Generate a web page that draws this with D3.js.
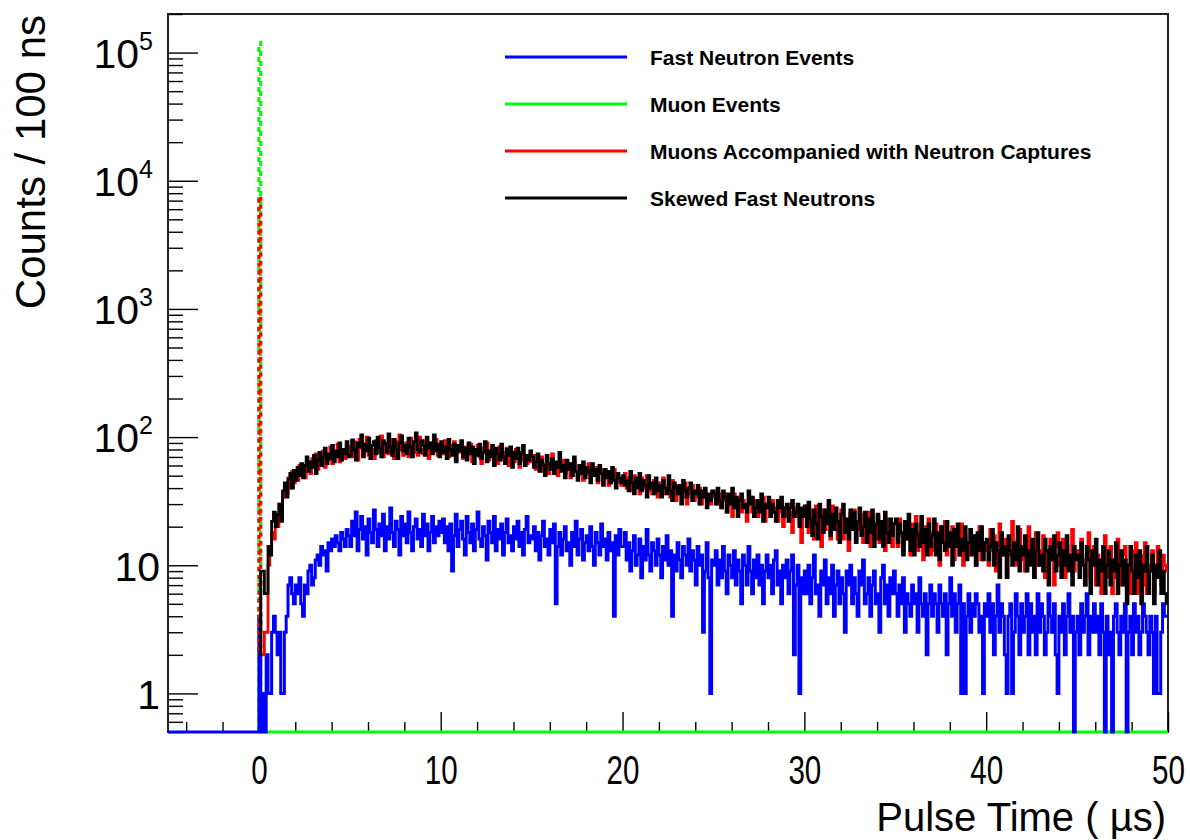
<!DOCTYPE html>
<html>
<head>
<meta charset="utf-8">
<script src="https://cdn.jsdelivr.net/npm/d3@7"></script>
<style>
  body { margin: 0; background: #fff; }
  svg { display: block; font-family: "Liberation Sans", Arial, Helvetica, sans-serif; }
</style>
</head>
<body>
<svg id="chart" width="1190" height="840"></svg>
<script>
// Pulse-time histograms, 100 ns bins starting at 0 µs
const binWidth = 0.1;
const xRange = [-5, 50];
const yRange = [0.5, 2e5];
const xMajorTicks = [0, 10, 20, 30, 40, 50];
const yMajorTicks = [1, 10, 100, 1000, 10000, 100000];
const yTickBases = ["1", "10", "10", "10", "10", "10"];
const yTickExponents = ["", "", "2", "3", "4", "5"];

const seriesNames = [
  "Fast Neutron Events",
  "Muon Events",
  "Muons Accompanied with Neutron Captures",
  "Skewed Fast Neutrons"
];
const seriesColors = ["#0000ff", "#00ff00", "#ff0000", "#000000"];

// Muon events: everything lands in the first bin, all later bins are empty
const muonCounts = [120000];

// Fast neutron events (blue)
const fastNeutronCounts = [
  // 0-5 µs
  4, 0, 1, 0, 2, 1, 1, 3, 4, 3, 2, 3, 1, 1, 3, 4, 7, 8, 6, 5,
  7, 6, 8, 5, 4, 7, 6, 9, 10, 7, 8, 11, 12, 10, 14, 12, 13, 9, 15, 13,
  16, 14, 17, 15, 13, 18, 16, 14, 19, 17,
  // 5-10 µs
  14, 22, 17, 26, 13, 19, 24, 16, 20, 12, 23, 18, 15, 27, 19, 14, 21, 17, 25, 13,
  20, 16, 28, 18, 14, 22, 19, 12, 24, 17, 21, 15, 26, 18, 13, 20, 23, 16, 19, 14,
  25, 17, 21, 13, 18, 24, 15, 20, 17, 22,
  // 10-15 µs
  18, 23, 15, 20, 13, 21, 9, 17, 25, 14, 19, 22, 16, 12, 24, 18, 15, 21, 13, 19,
  26, 16, 14, 20, 17, 11, 22, 18, 15, 24, 13, 19, 16, 21, 12, 18, 23, 15, 17, 13,
  20, 16, 22, 14, 18, 12, 19, 24, 15, 17,
  // 15-20 µs
  16, 20, 13, 18, 11, 17, 22, 14, 16, 12, 19, 15, 21, 5, 14, 18, 12, 16, 20, 13,
  15, 10, 18, 14, 22, 12, 16, 19, 11, 15, 17, 13, 20, 14, 10, 18, 15, 12, 21, 14,
  16, 11, 18, 13, 15, 4, 17, 12, 19, 14,
  // 20-25 µs
  14, 18, 11, 15, 9, 13, 17, 10, 12, 16, 8, 14, 11, 19, 12, 9, 15, 13, 10, 16,
  12, 8, 14, 11, 17, 10, 13, 4, 12, 9, 15, 11, 8, 14, 12, 10, 16, 9, 13, 11,
  7, 14, 10, 12, 3, 9, 15, 8, 1, 11,
  // 25-30 µs
  10, 13, 7, 11, 8, 14, 9, 6, 12, 10, 8, 13, 7, 11, 9, 5, 12, 10, 7, 14,
  9, 6, 11, 8, 12, 7, 10, 5, 9, 12, 8, 10, 6, 11, 13, 7, 9, 5, 10, 8,
  11, 6, 9, 12, 2, 7, 10, 1, 8, 6,
  // 30-35 µs
  9, 6, 10, 5, 8, 12, 6, 7, 4, 9, 7, 11, 5, 8, 6, 10, 4, 7, 9, 5,
  8, 6, 3, 9, 7, 10, 5, 8, 6, 4, 9, 7, 11, 5, 6, 8, 4, 7, 9, 5,
  6, 3, 8, 10, 5, 7, 4, 8, 6, 9,
  // 35-40 µs
  6, 4, 7, 5, 8, 3, 6, 5, 4, 7, 5, 6, 3, 8, 5, 4, 6, 2, 5, 7,
  4, 6, 5, 3, 7, 5, 4, 6, 2, 5, 8, 4, 6, 3, 5, 7, 1, 5, 1, 4,
  6, 3, 5, 4, 6, 5, 3, 4, 1, 5,
  // 40-45 µs
  4, 6, 3, 5, 2, 4, 7, 3, 5, 4, 2, 1, 4, 5, 1, 3, 6, 4, 2, 5,
  3, 4, 6, 2, 5, 3, 4, 2, 6, 3, 5, 4, 2, 3, 6, 4, 3, 5, 2, 1,
  4, 3, 5, 2, 4, 6, 3, 4, 0, 3,
  // 45-50 µs
  4, 2, 5, 3, 4, 6, 2, 4, 3, 5, 3, 4, 2, 5, 3, 0, 4, 2, 3, 0,
  4, 5, 3, 2, 4, 3, 5, 0, 3, 4, 2, 5, 3, 4, 2, 3, 5, 4, 3, 2,
  4, 3, 1, 4, 1, 1, 3, 5, 4, 4
];

// Muons accompanied with neutron captures (red)
const muonCaptureCounts = [
  // 0-5 µs
  7500, 2, 2, 3, 3, 10, 13, 18, 16, 24, 20, 30, 26, 34, 42, 36, 48, 40, 54, 44,
  50, 46, 60, 52, 56, 48, 64, 58, 52, 68, 60, 74, 56, 66, 62, 78, 58, 72, 66, 84,
  62, 76, 70, 88, 64, 80, 72, 68, 86, 74,
  // 5-10 µs
  84, 70, 92, 78, 66, 96, 82, 74, 88, 100, 72, 86, 80, 68, 94, 84, 76, 102, 70, 90,
  82, 74, 96, 86, 68, 92, 78, 104, 80, 72, 90, 84, 70, 98, 82, 76, 88, 72, 100, 80,
  74, 94, 84, 68, 90, 78, 86, 96, 72, 82,
  // 10-15 µs
  88, 74, 94, 80, 70, 86, 78, 92, 66, 82, 76, 90, 68, 84, 72, 78, 88, 64, 80, 74,
  86, 70, 62, 82, 76, 90, 66, 74, 80, 68, 78, 62, 84, 72, 66, 76, 82, 60, 74, 70,
  64, 80, 68, 58, 76, 66, 72, 62, 70, 64,
  // 15-20 µs
  66, 72, 56, 64, 60, 70, 54, 62, 68, 52, 60, 74, 56, 62, 50, 64, 58, 66, 52, 56,
  62, 48, 58, 64, 54, 50, 60, 56, 46, 58, 52, 62, 48, 54, 50, 58, 44, 52, 56, 46,
  50, 54, 42, 52, 48, 56, 44, 50, 46, 42,
  // 20-25 µs
  46, 52, 40, 48, 44, 38, 50, 42, 46, 36, 48, 40, 44, 50, 38, 42, 36, 46, 40, 34,
  44, 38, 48, 36, 40, 42, 34, 46, 38, 32, 42, 36, 40, 34, 44, 30, 38, 36, 42, 32,
  38, 34, 40, 30, 36, 38, 32, 34, 30, 36,
  // 25-30 µs
  34, 38, 30, 36, 28, 32, 36, 26, 34, 30, 24, 36, 30, 28, 34, 26, 32, 28, 22, 30,
  34, 26, 28, 32, 24, 30, 26, 34, 22, 28, 30, 24, 32, 26, 28, 22, 30, 26, 20, 28,
  24, 30, 26, 18, 28, 24, 26, 22, 15, 26,
  // 30-35 µs
  25, 29, 18, 27, 21, 16, 29, 20, 25, 14, 27, 19, 24, 21, 16, 29, 19, 25, 16, 22,
  27, 16, 23, 19, 13, 25, 19, 27, 16, 22, 19, 25, 15, 21, 18, 26, 14, 22, 19, 16,
  24, 15, 21, 18, 13, 23, 17, 20, 14, 21,
  // 35-40 µs
  21, 14, 23, 17, 13, 22, 16, 20, 12, 21, 15, 24, 13, 18, 21, 11, 20, 15, 23, 12,
  18, 13, 21, 16, 10, 20, 15, 22, 12, 17, 14, 20, 11, 16, 19, 12, 21, 10, 17, 14,
  12, 19, 14, 17, 10, 16, 20, 11, 15, 13,
  // 40-45 µs
  15, 10, 19, 13, 17, 9, 14, 21, 12, 13, 16, 8, 15, 12, 22, 13, 10, 16, 19, 11,
  14, 9, 13, 20, 11, 15, 8, 18, 10, 13, 12, 17, 8, 13, 11, 16, 12, 7, 14, 18,
  10, 13, 16, 8, 14, 11, 12, 19, 9, 12,
  // 45-50 µs
  13, 9, 16, 11, 7, 12, 18, 8, 11, 14, 7, 12, 10, 6, 13, 17, 8, 10, 14, 6,
  11, 8, 16, 10, 7, 12, 14, 7, 10, 6, 13, 9, 15, 6, 10, 12, 7, 15, 6, 10,
  9, 13, 6, 10, 14, 8, 7, 12, 10, 9
];

// Skewed fast neutrons (black)
const skewedNeutronCounts = [
  // 0-5 µs
  2, 9, 9, 6, 6, 14, 12, 22, 26, 20, 25, 30, 22, 38, 44, 34, 47, 52, 40, 55,
  46, 58, 50, 62, 48, 60, 70, 54, 64, 58, 72, 52, 66, 76, 60, 70, 82, 62, 74, 68,
  86, 64, 78, 70, 90, 66, 80, 74, 92, 70,
  // 5-10 µs
  72, 95, 80, 66, 90, 84, 104, 70, 88, 78, 98, 68, 86, 92, 74, 100, 82, 70, 94, 88,
  76, 106, 84, 72, 96, 80, 68, 90, 102, 78, 86, 74, 98, 84, 70, 92, 108, 80, 76, 94,
  86, 72, 100, 82, 90, 74, 104, 78, 88, 70,
  // 10-15 µs
  92, 76, 84, 68, 96, 80, 72, 88, 64, 86, 78, 94, 70, 82, 66, 90, 74, 84, 62, 80,
  72, 88, 68, 76, 92, 64, 78, 70, 86, 60, 82, 74, 66, 88, 70, 62, 80, 72, 84, 58,
  76, 68, 82, 62, 74, 86, 60, 72, 66, 78,
  // 15-20 µs
  70, 58, 64, 74, 54, 66, 60, 50, 72, 62, 56, 68, 52, 64, 58, 76, 54, 60, 48, 66,
  56, 62, 50, 70, 54, 46, 60, 52, 64, 48, 58, 54, 44, 62, 50, 56, 46, 60, 52, 42,
  56, 48, 54, 44, 58, 46, 40, 52, 48, 44,
  // 20-25 µs
  50, 42, 46, 38, 54, 44, 36, 48, 40, 52, 38, 46, 42, 34, 50, 40, 44, 36, 48, 38,
  42, 34, 46, 40, 36, 50, 38, 32, 44, 40, 36, 42, 30, 46, 38, 34, 40, 44, 32, 38,
  36, 42, 30, 38, 34, 40, 28, 36, 32, 38,
  // 25-30 µs
  36, 30, 40, 32, 28, 38, 34, 26, 36, 30, 40, 28, 34, 24, 32, 36, 28, 30, 26, 38,
  30, 34, 24, 28, 32, 26, 36, 22, 30, 28, 34, 24, 30, 26, 22, 32, 28, 34, 24, 28,
  30, 22, 28, 32, 24, 26, 30, 20, 28, 24,
  // 30-35 µs
  29, 20, 31, 23, 17, 27, 21, 16, 30, 24, 18, 27, 21, 32, 17, 25, 19, 28, 22, 15,
  25, 30, 18, 23, 16, 27, 19, 26, 15, 22, 28, 17, 20, 26, 15, 23, 18, 27, 14, 21,
  25, 16, 22, 14, 26, 18, 15, 23, 17, 21,
  // 35-40 µs
  23, 15, 21, 18, 12, 22, 16, 25, 13, 19, 12, 21, 17, 14, 24, 15, 19, 12, 21, 14,
  17, 23, 12, 18, 11, 20, 15, 13, 22, 14, 18, 10, 19, 14, 21, 12, 16, 13, 20, 11,
  15, 19, 12, 17, 10, 18, 13, 20, 11, 15,
  // 40-45 µs
  16, 11, 14, 19, 10, 15, 13, 8, 18, 12, 14, 8, 17, 13, 10, 15, 11, 20, 9, 14,
  12, 17, 9, 13, 10, 16, 8, 13, 18, 10, 12, 9, 16, 13, 7, 14, 11, 17, 9, 12,
  15, 8, 13, 10, 17, 9, 12, 7, 14, 11,
  // 45-50 µs
  12, 8, 15, 10, 7, 14, 11, 6, 13, 10, 16, 7, 11, 9, 14, 6, 10, 13, 7, 11,
  9, 15, 6, 10, 13, 7, 11, 5, 10, 14, 9, 6, 12, 8, 13, 5, 10, 9, 14, 6,
  9, 12, 5, 10, 8, 13, 6, 9, 6, 5
];

// ---- layout -------------------------------------------------------------
const frame = { left: 168, right: 1168, top: 14, bottom: 732 };
const nBins = Math.round((xRange[1] - 0) / binWidth);
const fontFamily = "Liberation Sans, Arial, sans-serif";

const svg = d3.select("#chart");
const x = d3.scaleLinear().domain(xRange).range([frame.left, frame.right]);
const y = d3.scaleLog().domain(yRange).range([frame.bottom, frame.top]);
// empty bins sit on the floor of the log axis
const yv = v => y(Math.max(v, yRange[0]));

// frame
svg.append("rect")
  .attr("x", frame.left).attr("y", frame.top)
  .attr("width", frame.right - frame.left).attr("height", frame.bottom - frame.top)
  .attr("fill", "none").attr("stroke", "#222").attr("stroke-width", 2);

// ---- x axis (ticks point into the frame) --------------------------------
const xMinor = d3.range(-4, 50, 2).filter(v => !xMajorTicks.includes(v));
svg.append("g").attr("transform", `translate(0,${frame.bottom})`)
  .call(d3.axisBottom(x).tickValues(xMinor).tickSize(-10).tickFormat(""))
  .call(g => g.select(".domain").remove())
  .call(g => g.selectAll("line").attr("stroke", "#000").attr("stroke-width", 1.4));

svg.append("g").attr("transform", `translate(0,${frame.bottom})`)
  .call(d3.axisBottom(x).tickValues(xMajorTicks).tickSize(-20).tickPadding(24).tickFormat(d3.format("d")))
  .call(g => g.select(".domain").remove())
  .call(g => g.selectAll("line").attr("stroke", "#000").attr("stroke-width", 1.4))
  .call(g => g.selectAll("text")
    .attr("font-family", fontFamily)
    .attr("font-size", 40).attr("fill", "#000")
    .attr("transform", "scale(0.74,1)"));

// ---- y axis (log) -------------------------------------------------------
const yMinor = [];
for (let e = -1; e <= 5; e++) {
  for (let m = 2; m <= 9; m++) {
    const v = m * Math.pow(10, e);
    if (v >= yRange[0] && v <= yRange[1]) yMinor.push(v);
  }
}
svg.append("g").attr("transform", `translate(${frame.left},0)`)
  .call(d3.axisLeft(y).tickValues(yMinor).tickSize(-15).tickFormat(""))
  .call(g => g.select(".domain").remove())
  .call(g => g.selectAll("line").attr("stroke", "#000").attr("stroke-width", 1.4));

const yAxisG = svg.append("g").attr("transform", `translate(${frame.left},0)`)
  .call(d3.axisLeft(y).tickValues(yMajorTicks).tickSize(-30).tickPadding(8).tickFormat(""))
  .call(g => g.select(".domain").remove())
  .call(g => g.selectAll("line").attr("stroke", "#000").attr("stroke-width", 1.4));

yAxisG.selectAll(".tick").each(function (d, i) {
  const t = d3.select(this).select("text")
    .attr("font-family", fontFamily)
    .attr("font-size", 41).attr("fill", "#000")
    .attr("dy", "0.36em");
  t.text(null);
  if (yTickExponents[i]) t.attr("x", -15);
  t.append("tspan").text(yTickBases[i]);
  if (yTickExponents[i]) {
    t.append("tspan").attr("font-size", 25).attr("dy", "-0.72em").text(yTickExponents[i]);
  }
});

// axis titles
svg.append("text")
  .attr("x", frame.right - 2).attr("y", 831)
  .attr("text-anchor", "end").attr("font-size", 40).attr("fill", "#000")
  .text("Pulse Time ( \u00b5s)");

svg.append("text")
  .attr("transform", `translate(45,${frame.top + 1}) rotate(-90)`)
  .attr("text-anchor", "end").attr("font-size", 42).attr("fill", "#000")
  .text("Counts / 100 ns");

// ---- histograms ---------------------------------------------------------
const stepLine = d3.line().x(d => x(d[0])).y(d => yv(d[1])).curve(d3.curveStepAfter);
const plainLine = d3.line().x(d => x(d[0])).y(d => yv(d[1]));

function binPoints(counts, fromBin) {
  const pts = [];
  for (let i = fromBin; i < counts.length; i++) pts.push([i * binWidth, counts[i]]);
  pts.push([counts.length * binWidth, counts[counts.length - 1]]);
  return pts;
}

const lw = 2.8;
const histG = svg.append("g").attr("fill", "none").attr("stroke-linejoin", "miter");

// muon events: baseline of empty bins + dashed spike in the first bin
const muonFull = d3.range(nBins).map(i => muonCounts[i] || 0);
histG.append("path")
  .attr("d", stepLine(binPoints(muonFull, 1)))
  .attr("stroke", seriesColors[1]).attr("stroke-width", lw);
histG.append("path")
  .attr("d", plainLine([[0, 0], [0, muonFull[0]], [binWidth, muonFull[0]], [binWidth, muonFull[1]]]))
  .attr("stroke", seriesColors[1]).attr("stroke-width", lw + 0.4)
  .attr("stroke-dasharray", "5,5");

// fast neutron events, empty before the trigger
const fastPts = [[xRange[0], 0]].concat(binPoints(fastNeutronCounts, 0));
histG.append("path")
  .attr("d", stepLine(fastPts))
  .attr("stroke", seriesColors[0]).attr("stroke-width", 3);

// muons with neutron captures: dashed first-bin spike, solid after
const mc = muonCaptureCounts;
histG.append("path")
  .attr("d", plainLine([[0, mc[1]], [0, mc[0]], [binWidth, mc[0]], [binWidth, mc[1]]]))
  .attr("stroke", seriesColors[2]).attr("stroke-width", lw + 0.4)
  .attr("stroke-dasharray", "4,4").attr("stroke-dashoffset", 4);
histG.append("path")
  .attr("d", stepLine(binPoints(mc, 1)))
  .attr("stroke", seriesColors[2]).attr("stroke-width", lw);

// skewed fast neutrons
histG.append("path")
  .attr("d", stepLine(binPoints(skewedNeutronCounts, 0)))
  .attr("stroke", seriesColors[3]).attr("stroke-width", lw);

// ---- legend -------------------------------------------------------------
const legend = svg.append("g");
seriesNames.forEach((name, k) => {
  const cy = 57 + k * 47;
  legend.append("line")
    .attr("x1", 505).attr("x2", 627).attr("y1", cy).attr("y2", cy)
    .attr("stroke", seriesColors[k]).attr("stroke-width", 3);
  legend.append("text")
    .attr("x", 650).attr("y", cy + 7.5)
    .attr("font-size", 21).attr("font-weight", "bold").attr("fill", "#000")
    .text(name);
});
</script>
</body>
</html>
